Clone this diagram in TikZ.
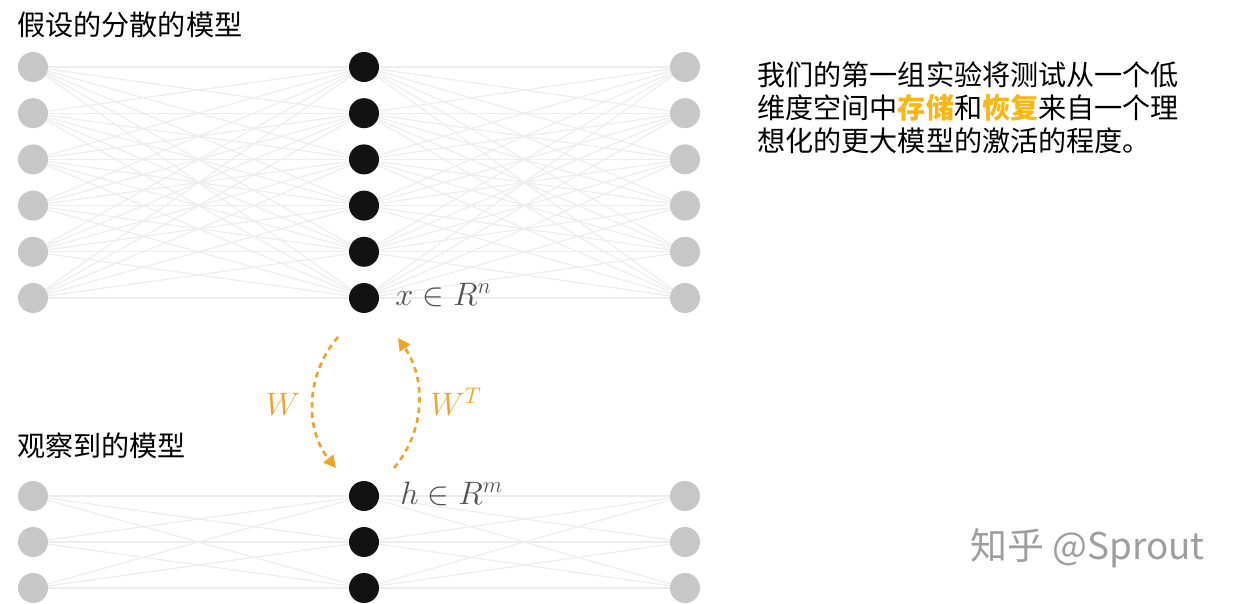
\documentclass[tikz,border=0pt]{standalone}
\usepackage{fontspec}
\usepackage{tikz}
\usetikzlibrary{arrows.meta,backgrounds}
\newfontfamily\cjk{Noto Sans CJK SC}
\definecolor{wgold}{RGB}{242,162,38}
\definecolor{hlgold}{RGB}{250,182,20}
\tikzset{
 faint/.style={circle,fill=black!22,minimum size=0.6cm,inner sep=0pt},
 hidden/.style={circle,fill=black!93,minimum size=0.6cm,inner sep=0pt},
 wire/.style={black!7,line width=0.7pt},
 proj/.style={wgold,dash pattern=on 3.2pt off 2.6pt,line width=1.5pt,-{Triangle[length=7pt,width=7pt]}},
 mlbl/.style={font=\fontsize{17.28}{20}\selectfont,inner sep=0pt,scale=1.07},
 title/.style={font=\cjk\fontsize{16}{19}\selectfont,inner sep=0pt,anchor=west},
}

\begin{document}
\begin{tikzpicture}[x=0.02cm,y=-0.02cm]
\useasboundingbox (0,0) rectangle (1240,604);

% assumed sparse model
\node[title] (big) at (17,25) {假设的分散的模型};
\foreach \i/\y in {1/67,2/113.2,3/159.4,4/205.6,5/251.8,6/298} {
 \node[faint] (a\i) at (33,\y) {};
 \node[hidden] (b\i) at (364,\y) {};
 \node[faint] (c\i) at (685,\y) {};
}
\begin{scope}[on background layer]
\foreach \i in {1,...,6} \foreach \j in {1,...,6} {
 \draw[wire] (a\i.center) -- (b\j.center);
 \draw[wire] (b\i.center) -- (c\j.center);
}
\end{scope}
\node[mlbl,anchor=west,text=black!68] (xlab) at (395,295) {$x \in R^n$};

% observed model
\node[title] (small) at (17,446) {观察到的模型};
\foreach \i/\y in {1/496,2/542,3/588} {
 \node[faint] (p\i) at (33,\y) {};
 \node[hidden] (q\i) at (364,\y) {};
 \node[faint] (r\i) at (685,\y) {};
}
\begin{scope}[on background layer]
\foreach \i in {1,2,3} \foreach \j in {1,2,3} {
 \draw[wire] (p\i.center) -- (q\j.center);
 \draw[wire] (q\i.center) -- (r\j.center);
}
\end{scope}
\node[mlbl,anchor=west,text=black!68] (hlab) at (400,494) {$h \in R^m$};

% W and W^T
\coordinate (wtop) at (338,337);
\coordinate (wbot) at (336,468);
\coordinate (ttop) at (398,338);
\coordinate (tbot) at (394,468);
\draw[proj] (wtop) .. controls (305,375) and (305,430) .. (wbot);
\draw[proj] (tbot) .. controls (426,430) and (426,378) .. (ttop);
\node[mlbl,text=wgold] (wl) at (283,404) {$W$};
\node[mlbl,text=wgold] (wtl) at (456,402) {$W^T$};

% right text
\node[font=\cjk\fontsize{16}{18.7}\selectfont,align=left,anchor=west,inner sep=0pt] (note) at (757,108)
 {我们的第一组实验将测试从一个低\\维度空间中{\bfseries\color{hlgold}存储}和{\bfseries\color{hlgold}恢复}来自一个理\\想化的更大模型的激活的程度。};

\node[font=\cjk\fontsize{21}{24}\selectfont,text=black!38,anchor=west,inner sep=0pt] (mark) at (970,548) {知乎 @Sprout};
\end{tikzpicture}
\end{document}
